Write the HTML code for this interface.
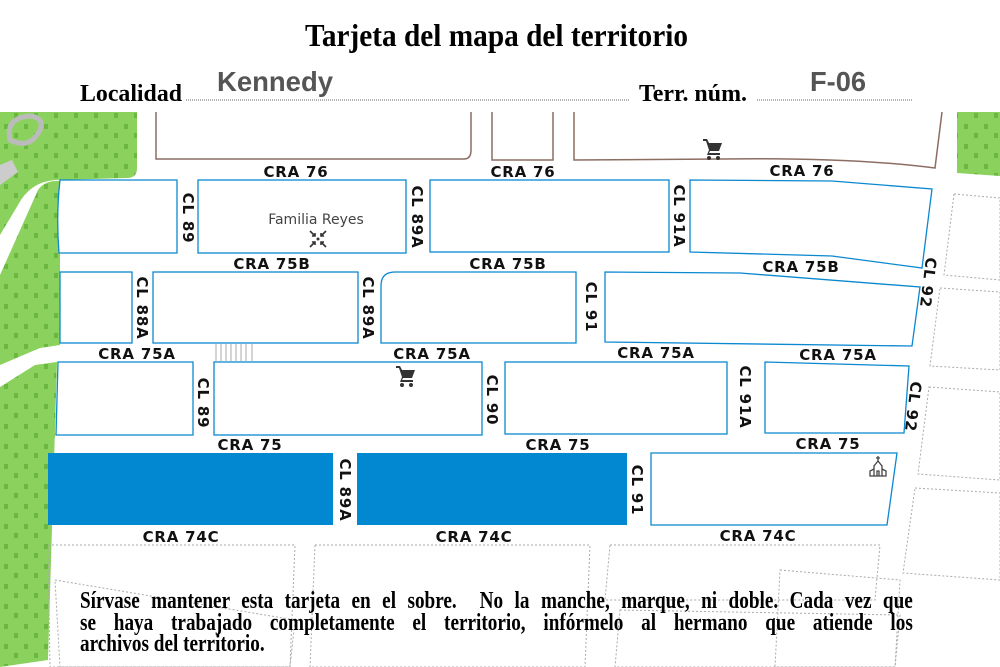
<!DOCTYPE html>
<html><head><meta charset="utf-8"><style>
html,body{margin:0;padding:0;background:#fff;}
body{width:1000px;height:667px;position:relative;overflow:hidden;}
svg{position:absolute;left:0;top:0;}
.l{font-family:"DejaVu Sans","Liberation Sans",sans-serif;font-weight:bold;font-size:15px;letter-spacing:0.8px;fill:#111;}
.para{position:absolute;left:80px;top:591px;width:1041px;transform:scaleX(0.8);transform-origin:0 0;font-family:"Liberation Serif",serif;font-weight:bold;font-size:24px;line-height:21.5px;color:#000;}
.para div{white-space:nowrap;}
.j{text-align:justify;text-align-last:justify;}
</style></head><body>
<svg width="1000" height="667" viewBox="0 0 1000 667">
<defs>
<pattern id="dots" width="20" height="20" patternUnits="userSpaceOnUse">
<rect width="20" height="20" fill="#8bd15e"/>
<rect x="4" y="4" width="4" height="5" fill="#6ab83f"/>
<rect x="14" y="13" width="4" height="5" fill="#6ab83f"/>
</pattern>
</defs>
<path d="M0,112 L137,112 L137,168 Q137,178 127,178 L55,180 Q30,182 18,205 L0,235 Z" fill="url(#dots)"/>
<path d="M0,275 L38,190 Q45,180 60,181 L60,345 L40,348 L0,365 Z" fill="url(#dots)"/>
<path d="M0,387 L35,365 L57,362 L48,660 L0,667 Z" fill="url(#dots)"/>
<path d="M957,112 L1000,112 L1000,176 L957,173 Z" fill="url(#dots)"/>
<path d="M10,140 Q5,118 30,116 Q45,118 40,130 Q30,150 10,140 Z" fill="none" stroke="#bbb" stroke-width="5"/>
<path d="M0,165 L12,160 L18,172 L0,185 Z" fill="#ccc"/>
<g fill="none" stroke="#aaa" stroke-width="1" stroke-dasharray="2,2">
<polygon points="954,194 1000,198 1000,280 944,275"/>
<polygon points="940,288 1000,292 1000,370 930,366"/>
<polygon points="929,387 1000,392 1000,480 918,474"/>
<polygon points="915,488 1000,493 1000,580 903,573"/>
<polygon points="48,545 295,545 290,667 50,667"/>
<polygon points="315,545 590,545 585,667 310,667"/>
<polygon points="610,545 880,545 875,600 605,600"/>
<polygon points="620,610 900,615 895,667 615,667"/>
<polygon points="55,580 295,620 290,667 60,667"/>
<polygon points="780,570 900,580 895,667 775,667"/>
</g>
<g fill="none" stroke="#8c6d62" stroke-width="1.5">
<path d="M156,112 L156,159 L464,159 Q471,159 471,150 L471,112"/>
<path d="M492,112 L492,160 L553,160 L553,112"/>
<path d="M574,112 L574,160 L720,159 Q850,157 935,168 L942,112"/>
</g>
<g fill="#fff" stroke="#0a88d0" stroke-width="1.3">
<path d="M60,180 L177,180 L177,253 L59,253 Q56,215 60,180 Z"/>
<rect x="198" y="180" width="208" height="73"/>
<rect x="430" y="180" width="239" height="72"/>
<path d="M690,180 L832,181 L932,189 L922,268 L832,256 L690,252 Z"/>
<rect x="60" y="272" width="72" height="71"/>
<rect x="153" y="272" width="205" height="71"/>
<path d="M395,272 L576,272 L576,343 L381,343 L381,286 Q381,272 395,272 Z"/>
<path d="M605,272 L740,273 L920,287 L912,346 L605,342 Z"/>
<path d="M58,362 L193,362 L193,435 L56,435 Z"/>
<rect x="214" y="362" width="268" height="73"/>
<rect x="505" y="362" width="222" height="72"/>
<path d="M765,362 L909,366 L904,433 L765,433 Z"/>
<path d="M651,453 L897,453 L887,525 L651,525 Z"/>
</g>
<rect x="48" y="453" width="285" height="72" fill="#0288d1"/>
<rect x="357" y="453" width="270" height="72" fill="#0288d1"/>
<g stroke="#aaa" stroke-width="1"><line x1="216" y1="344" x2="216" y2="361"/><line x1="221" y1="344" x2="221" y2="361"/><line x1="226" y1="344" x2="226" y2="361"/><line x1="231" y1="344" x2="231" y2="361"/><line x1="236" y1="344" x2="236" y2="361"/><line x1="241" y1="344" x2="241" y2="361"/><line x1="246" y1="344" x2="246" y2="361"/><line x1="252" y1="344" x2="252" y2="361"/></g>
<text x="305" y="46" textLength="383" lengthAdjust="spacingAndGlyphs" font-family="Liberation Serif,serif" font-weight="bold" font-size="32">Tarjeta del mapa del territorio</text>
<text x="80" y="101" textLength="102" lengthAdjust="spacingAndGlyphs" font-family="Liberation Serif,serif" font-weight="bold" font-size="24">Localidad</text>
<line x1="186" y1="100" x2="630" y2="100" stroke="#666" stroke-dasharray="1,1"/>
<text x="217" y="91" textLength="116" lengthAdjust="spacingAndGlyphs" font-family="Liberation Sans,sans-serif" font-weight="bold" font-size="28" fill="#555">Kennedy</text>
<text x="639" y="101" textLength="108" lengthAdjust="spacingAndGlyphs" font-family="Liberation Serif,serif" font-weight="bold" font-size="24">Terr. núm.</text>
<line x1="757" y1="100" x2="913" y2="100" stroke="#666" stroke-dasharray="1,1"/>
<text x="810" y="91" textLength="56" lengthAdjust="spacingAndGlyphs" font-family="Liberation Sans,sans-serif" font-weight="bold" font-size="28" fill="#555">F-06</text>
<g class="l" text-anchor="middle">
<text x="296" y="177">CRA 76</text><text x="523" y="177">CRA 76</text><text x="802" y="176">CRA 76</text>
<text x="272" y="269">CRA 75B</text><text x="508" y="269">CRA 75B</text><text x="801" y="272">CRA 75B</text>
<text x="137" y="359">CRA 75A</text><text x="432" y="359">CRA 75A</text><text x="656" y="358">CRA 75A</text><text x="838" y="360">CRA 75A</text>
<text x="250" y="450">CRA 75</text><text x="558" y="450">CRA 75</text><text x="828" y="449">CRA 75</text>
<text x="181" y="542">CRA 74C</text><text x="474" y="542">CRA 74C</text><text x="758" y="541">CRA 74C</text>
</g>
<g class="l" text-anchor="middle">
<text transform="translate(183,218) rotate(90)">CL 89</text>
<text transform="translate(412,217) rotate(90)">CL 89A</text>
<text transform="translate(674,216) rotate(90)">CL 91A</text>
<text transform="translate(137,308) rotate(90)">CL 88A</text>
<text transform="translate(363,308) rotate(90)">CL 89A</text>
<text transform="translate(586,307) rotate(90)">CL 91</text>
<text transform="translate(923,282) rotate(97)">CL 92</text>
<text transform="translate(198,403) rotate(90)">CL 89</text>
<text transform="translate(487,400) rotate(90)">CL 90</text>
<text transform="translate(740,397) rotate(90)">CL 91A</text>
<text transform="translate(908,406) rotate(97)">CL 92</text>
<text transform="translate(340,490) rotate(90)">CL 89A</text>
<text transform="translate(632,490) rotate(90)">CL 91</text>
</g>
<text x="316" y="224" text-anchor="middle" font-family="DejaVu Sans,sans-serif" font-size="14" fill="#444">Familia Reyes</text>
<g stroke="#333" stroke-width="1.6" fill="none">
<path d="M310,231 L315,236 M326,231 L321,236 M310,247 L315,242 M326,247 L321,242"/>
<path d="M315,233 L315,236 L312,236 M321,233 L321,236 L324,236 M315,245 L315,242 L312,242 M321,245 L321,242 L324,242"/>
</g>
<circle cx="318" cy="239" r="1.5" fill="#333"/>
<g fill="#333">
<g transform="translate(703,139)"><path d="M0,0 L4,0 L6,4 L19,4 L16,12 L7,12 L6,14 L17,14 L17,16 L4,16 L6,11 L3,2 L0,2 Z"/><circle cx="6" cy="19" r="2"/><circle cx="15" cy="19" r="2"/></g>
<g transform="translate(396,366)"><path d="M0,0 L4,0 L6,4 L19,4 L16,12 L7,12 L6,14 L17,14 L17,16 L4,16 L6,11 L3,2 L0,2 Z"/><circle cx="6" cy="19" r="2"/><circle cx="15" cy="19" r="2"/></g>
</g>
<g fill="none" stroke="#444" stroke-width="1.3" transform="translate(870,456)">
<path d="M8,0 L8,5 M6,2 L10,2"/><path d="M8,5 L4,10 L4,20 L12,20 L12,10 Z"/><path d="M4,13 L0,15 L0,20 L4,20 M12,13 L16,15 L16,20 L12,20"/><path d="M7,20 L7,15 L9,15 L9,20"/>
</g>
</svg>
<div class="para">
<div class="j">Sírvase mantener esta tarjeta en el sobre.&nbsp; No la manche, marque, ni doble. Cada vez que</div>
<div class="j">se haya trabajado completamente el territorio, infórmelo al hermano que atiende los</div>
<div>archivos del territorio.</div>
</div>
</body></html>
